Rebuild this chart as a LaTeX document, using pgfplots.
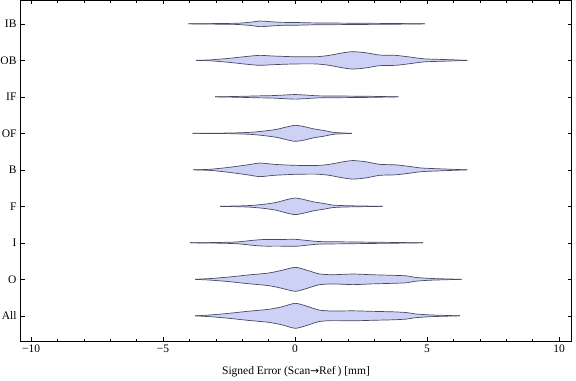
\documentclass[border=0pt]{standalone}
\usepackage{pgfplots}
\usepackage{pgfplotstable}
\pgfplotsset{compat=1.18}
\usepgfplotslibrary{fillbetween}
\usepackage{fontspec}
\setmainfont{Liberation Serif}
\newfontfamily\arrfont{DejaVu Sans}
\definecolor{vfill}{RGB}{204,209,245}
\definecolor{vedge}{RGB}{72,74,96}

% x = signed error, w = half width (in pixels of the reference, 36.5 px per category)
\pgfplotstableread{
x w
-4.04 0
-3.0 0.3
-2.2 0.6
-1.7 1.6
-1.33 2.8
-0.95 2.2
-0.5 1.5
0.0 1.4
0.6 1.0
1.5 0.8
3.0 0.5
4.0 0.3
4.92 0
}\IB
\pgfplotstableread{
x w
-3.75 0
-3.2 0.5
-2.5 2.0
-1.8 4.0
-1.33 5.0
-0.8 4.3
0.0 3.6
0.8 3.6
1.3 5.0
1.8 7.5
2.2 8.7
2.7 7.5
3.2 5.3
3.8 5.0
4.3 3.5
4.9 1.5
5.7 0.8
6.53 0
}\OB
\pgfplotstableread{
x w
-3.03 0
-2.2 0.4
-1.5 0.9
-0.8 1.3
-0.3 2.0
0.0 2.3
0.4 1.8
0.9 1.0
1.8 0.8
2.9 0.5
3.91 0
}\IF
\pgfplotstableread{
x w
-3.88 0
-2.5 0.3
-1.7 1.0
-1.2 2.2
-0.7 4.0
-0.3 6.5
0.0 8.0
0.3 7.0
0.7 4.5
1.1 2.8
1.45 1.0
1.8 0.4
2.15 0
}\OF
\pgfplotstableread{
x w
-3.85 0
-3.2 0.6
-2.5 2.5
-1.8 5.0
-1.33 6.8
-0.8 5.5
0.0 4.5
0.8 4.3
1.3 5.5
1.8 8.0
2.2 9.3
2.7 8.0
3.2 5.5
3.8 5.0
4.3 3.5
4.8 1.8
5.7 0.8
6.53 0
}\B
\pgfplotstableread{
x w
-2.84 0
-2.0 0.5
-1.6 1.0
-1.1 2.3
-0.7 4.0
-0.3 6.8
0.0 8.3
0.3 7.0
0.7 4.5
1.1 2.8
1.45 1.2
2.0 0.6
3.32 0
}\F
\pgfplotstableread{
x w
-3.98 0
-3.0 0.3
-2.2 0.9
-1.6 2.5
-1.2 3.3
-0.6 3.3
0.0 3.5
0.4 2.5
0.9 1.3
1.8 1.0
3.0 0.6
4.0 0.3
4.84 0
}\I
\pgfplotstableread{
x w
-3.79 0
-3.2 0.8
-2.5 2.3
-1.8 4.3
-1.0 6.3
-0.5 9.0
0.0 12.0
0.4 9.5
0.9 5.5
1.4 4.6
2.2 5.3
2.9 4.6
3.7 4.0
4.2 3.5
4.6 1.8
5.2 0.8
6.31 0
}\O
\pgfplotstableread{
x w
-3.79 0
-3.2 0.9
-2.5 2.5
-1.8 4.5
-1.0 6.5
-0.5 9.0
0.0 12.5
0.4 10.0
0.9 5.8
1.4 4.8
2.2 5.0
2.9 4.5
3.7 4.0
4.2 3.3
4.6 1.8
5.2 0.8
6.25 0
}\All

\newcommand\violin[3]{%
  \addplot[vedge, line width=0.7bp, smooth, tension=0.4, name path=u#3]
    table[x=x, y expr={#2+\thisrow{w}/36.5}] {#1};
  \addplot[vedge, line width=0.7bp, smooth, tension=0.4, name path=l#3]
    table[x=x, y expr={#2-\thisrow{w}/36.5}] {#1};
  \addplot[vfill, draw=none] fill between[of=u#3 and l#3];
}

\begin{document}
\fontsize{11.5bp}{13.8bp}\selectfont
\begin{tikzpicture}
\begin{axis}[
  scale only axis,
  width=551bp, height=340.5bp,
  xmin=-10.40, xmax=10.47,
  ymin=0.31, ymax=9.64,
  axis line style={line width=0.8bp},
  every tick/.style={black, line width=0.6bp},
  major tick length=4bp,
  minor tick length=2.2bp,
  xtick={-10,-5,0,5,10},
  xticklabels={−10,−5,0,5,10},
  minor x tick num=4,
  ytick={1,2,3,4,5,6,7,8,9},
  yticklabels={All,O,I,F,B,OF,IF,OB,IB},
  tick align=inside,
  xticklabel style={font=\fontsize{11.5bp}{13.8bp}\selectfont},
  yticklabel style={font=\fontsize{11.5bp}{13.8bp}\selectfont},
  xlabel={Signed Error (Scan{\arrfont\fontsize{10.5bp}{12bp}\selectfont →}Ref\,) [mm]},
  xlabel style={font=\fontsize{11.5bp}{13.8bp}\selectfont, at={(axis description cs:0.5,0)}, anchor=center, yshift=-30.7bp},
  clip=false,
]
\violin{\IB}{9}{ib}
\violin{\OB}{8}{ob}
\violin{\IF}{7}{if}
\violin{\OF}{6}{of}
\violin{\B}{5}{b}
\violin{\F}{4}{f}
\violin{\I}{3}{i}
\violin{\O}{2}{o}
\violin{\All}{1}{all}
\end{axis}
\pgfresetboundingbox
\path (-20.5bp,-40bp) rectangle (555.5bp,341bp);
\end{tikzpicture}
\end{document}
